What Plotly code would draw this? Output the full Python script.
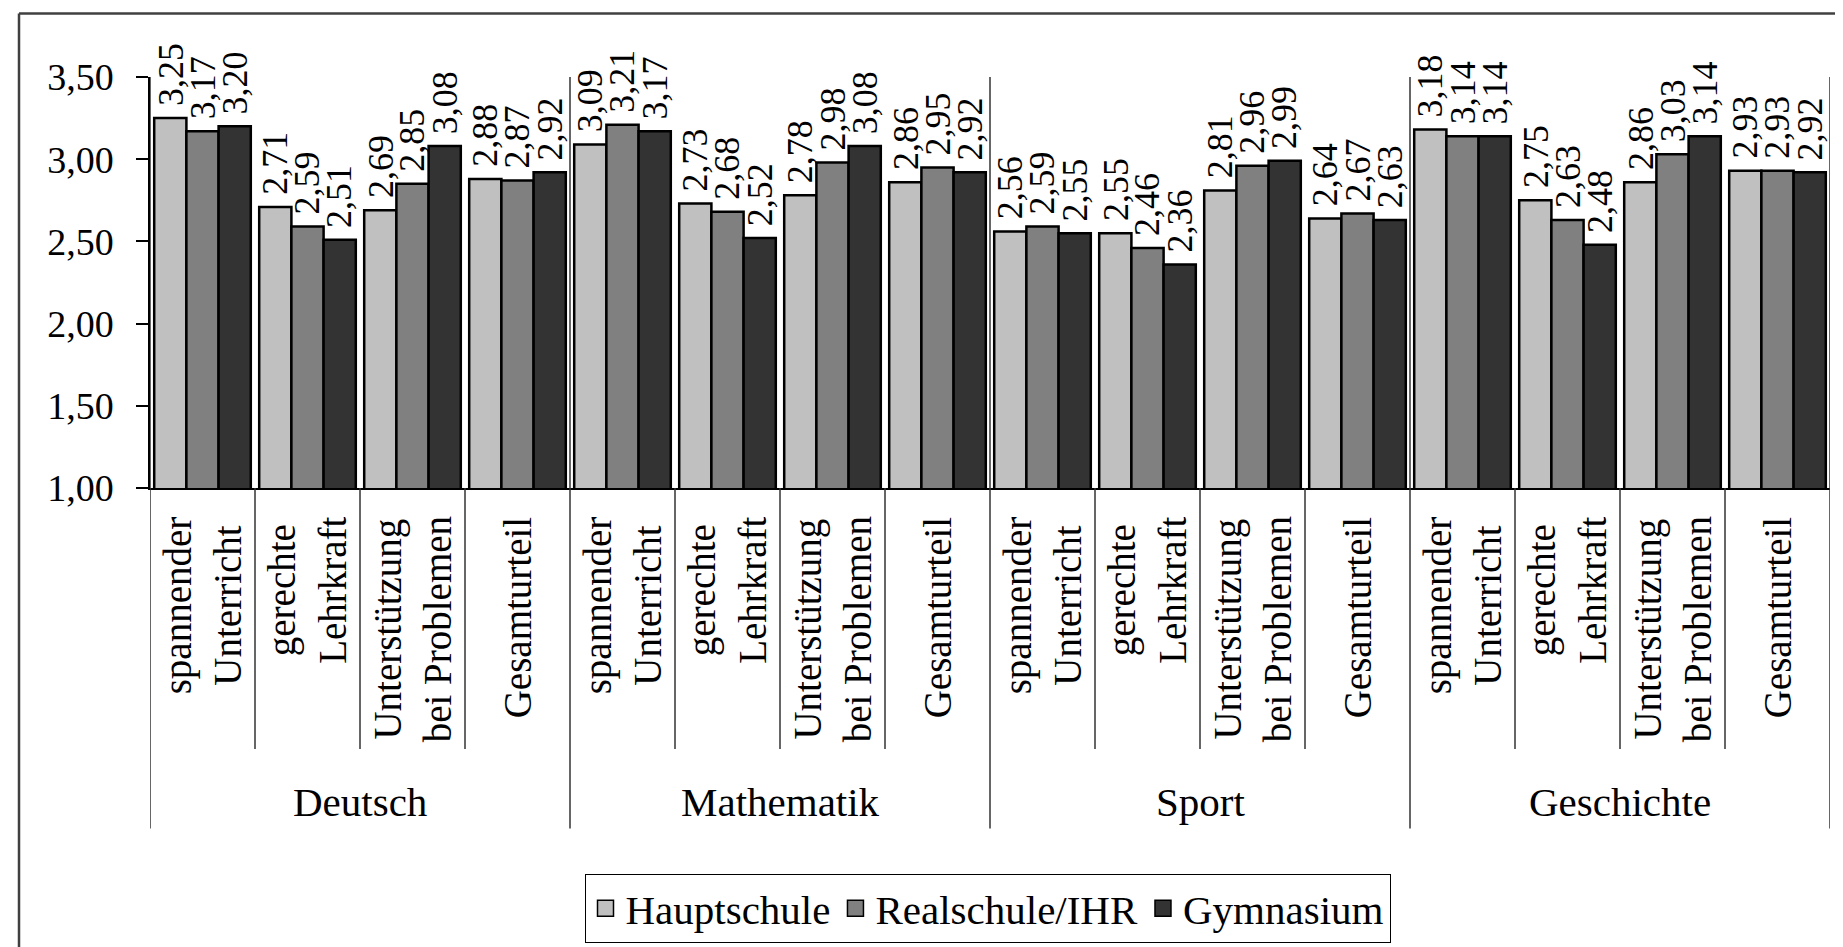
import plotly.graph_objects as go

# ---- data ----
groups = ["Deutsch", "Mathematik", "Sport", "Geschichte"]
subcats = ["spannender<br>Unterricht", "gerechte<br>Lehrkraft",
           "Unterstützung<br>bei Problemen", "Gesamturteil"]
series = ["Hauptschule", "Realschule/IHR", "Gymnasium"]
hauptschule = [3.25, 2.71, 2.69, 2.88,  3.09, 2.73, 2.78, 2.86,
               2.56, 2.55, 2.81, 2.64,  3.18, 2.75, 2.86, 2.93]
realschule  = [3.17, 2.59, 2.85, 2.87,  3.21, 2.68, 2.98, 2.95,
               2.59, 2.46, 2.96, 2.67,  3.14, 2.63, 3.03, 2.93]
gymnasium   = [3.20, 2.51, 3.08, 2.92,  3.17, 2.52, 3.08, 2.92,
               2.55, 2.36, 2.99, 2.63,  3.14, 2.48, 3.14, 2.92]
colors = ["#C0C0C0", "#808080", "#333333"]
y_ticks = [1.0, 1.5, 2.0, 2.5, 3.0, 3.5]

# ---- layout geometry (pixels) ----
W, H = 1843, 947
L, R, T, B = 142, 21, 69, 464
PW, PH = W - L - R, H - T - B
FONT = "Liberation Serif"
BARGAP = 0.08

def px_x(p):
    return (p - L) / PW

def px_y(p):
    return (H - B - p) / PH

keys = [g + "|" + s for g in groups for s in subcats]
sublabels = [s for g in groups for s in subcats]
n = len(keys)
nsub = len(subcats)
all_series = [hauptschule, realschule, gymnasium]

fig = go.Figure()
for name, vals, col in zip(series, all_series, colors):
    fig.add_trace(go.Bar(
        x=keys, y=vals, name=name, showlegend=False,
        marker=dict(color=col, line=dict(color="black", width=2.5)),
    ))
# legend entries with square swatches
for name, col in zip(series, colors):
    fig.add_trace(go.Scatter(
        x=[keys[0]], y=[None], name=name, mode="markers",
        marker=dict(symbol="square", size=16, color=col,
                    line=dict(color="black", width=1.5)),
    ))

annotations = []
# value labels above each bar
bar_px = PW / n * (1 - BARGAP) / len(series)
for j, vals in enumerate(all_series):
    for k, v in zip(keys, vals):
        annotations.append(dict(
            x=k, y=v, xref="x", yref="y", text=f"{v:.2f}".replace(".", ","),
            showarrow=False, textangle=-90, xanchor="center", yanchor="bottom",
            xshift=(j - 1) * bar_px, yshift=10,
            font=dict(family=FONT, size=36, color="black")))
# sub-category labels (rotated, two lines centered)
for k, s in zip(keys, sublabels):
    annotations.append(dict(
        x=k, y=px_y(510), xref="x", yref="paper", text=s, align="center",
        showarrow=False, textangle=-90, xanchor="center", yanchor="top",
        font=dict(family=FONT, size=39, color="black")))
# group labels
for gi, g in enumerate(groups):
    annotations.append(dict(x=gi * nsub + (nsub - 1) / 2, xref="x", y=px_y(799), yref="paper",
                            text=g, showarrow=False, xanchor="center", yanchor="middle",
                            font=dict(family=FONT, size=41, color="black")))

shapes = []
# group dividers (extend through plot area down to group labels)
for gi in range(len(groups) + 1):
    xi = gi * nsub - 0.5
    shapes.append(dict(type="line", xref="x", yref="paper", x0=xi, x1=xi,
                       y0=1, y1=px_y(826), line=dict(color="#333333", width=1.5)))
# sub-category dividers
for i in range(n):
    if i % nsub == 0:
        continue
    xi = i - 0.5
    shapes.append(dict(type="line", xref="x", yref="paper", x0=xi, x1=xi,
                       y0=0, y1=px_y(746), line=dict(color="#333333", width=1.5)))
# outer frame (left and top edges visible)
shapes.append(dict(type="line", xref="paper", yref="paper", x0=px_x(11), x1=px_x(11),
                   y0=px_y(5), y1=px_y(990), line=dict(color="#404040", width=2.5)))
shapes.append(dict(type="line", xref="paper", yref="paper", x0=px_x(11), x1=px_x(1900),
                   y0=px_y(5), y1=px_y(5), line=dict(color="#404040", width=2.5)))

fig.update_layout(
    width=W, height=H, autosize=False,
    margin=dict(l=L, r=R, t=T, b=B),
    paper_bgcolor="white", plot_bgcolor="white",
    separators=",.",
    barmode="group", bargap=BARGAP, bargroupgap=0,
    font=dict(family=FONT, color="black"),
    shapes=shapes, annotations=annotations,
    showlegend=True,
    legend=dict(orientation="h", x=px_x(979.5), xanchor="center",
                y=px_y(872), yanchor="top",
                bordercolor="black", borderwidth=1,
                font=dict(family=FONT, size=41, color="black"),
                itemwidth=30, tracegroupgap=0),
)
fig.update_xaxes(type="category", showticklabels=False, ticks="",
                 showline=True, linecolor="black", linewidth=1.5,
                 showgrid=False, range=[-0.5, n - 0.5])
fig.update_yaxes(range=[1, 3.5], tickvals=y_ticks, tickformat=".2f",
                 ticks="outside", ticklen=12, tickcolor="black", tickwidth=1.5,
                 showline=True, linecolor="black", linewidth=1.5, showgrid=False,
                 zeroline=False, ticklabelstandoff=15,
                 tickfont=dict(family=FONT, size=38, color="black"))

fig.write_html("out.html")
